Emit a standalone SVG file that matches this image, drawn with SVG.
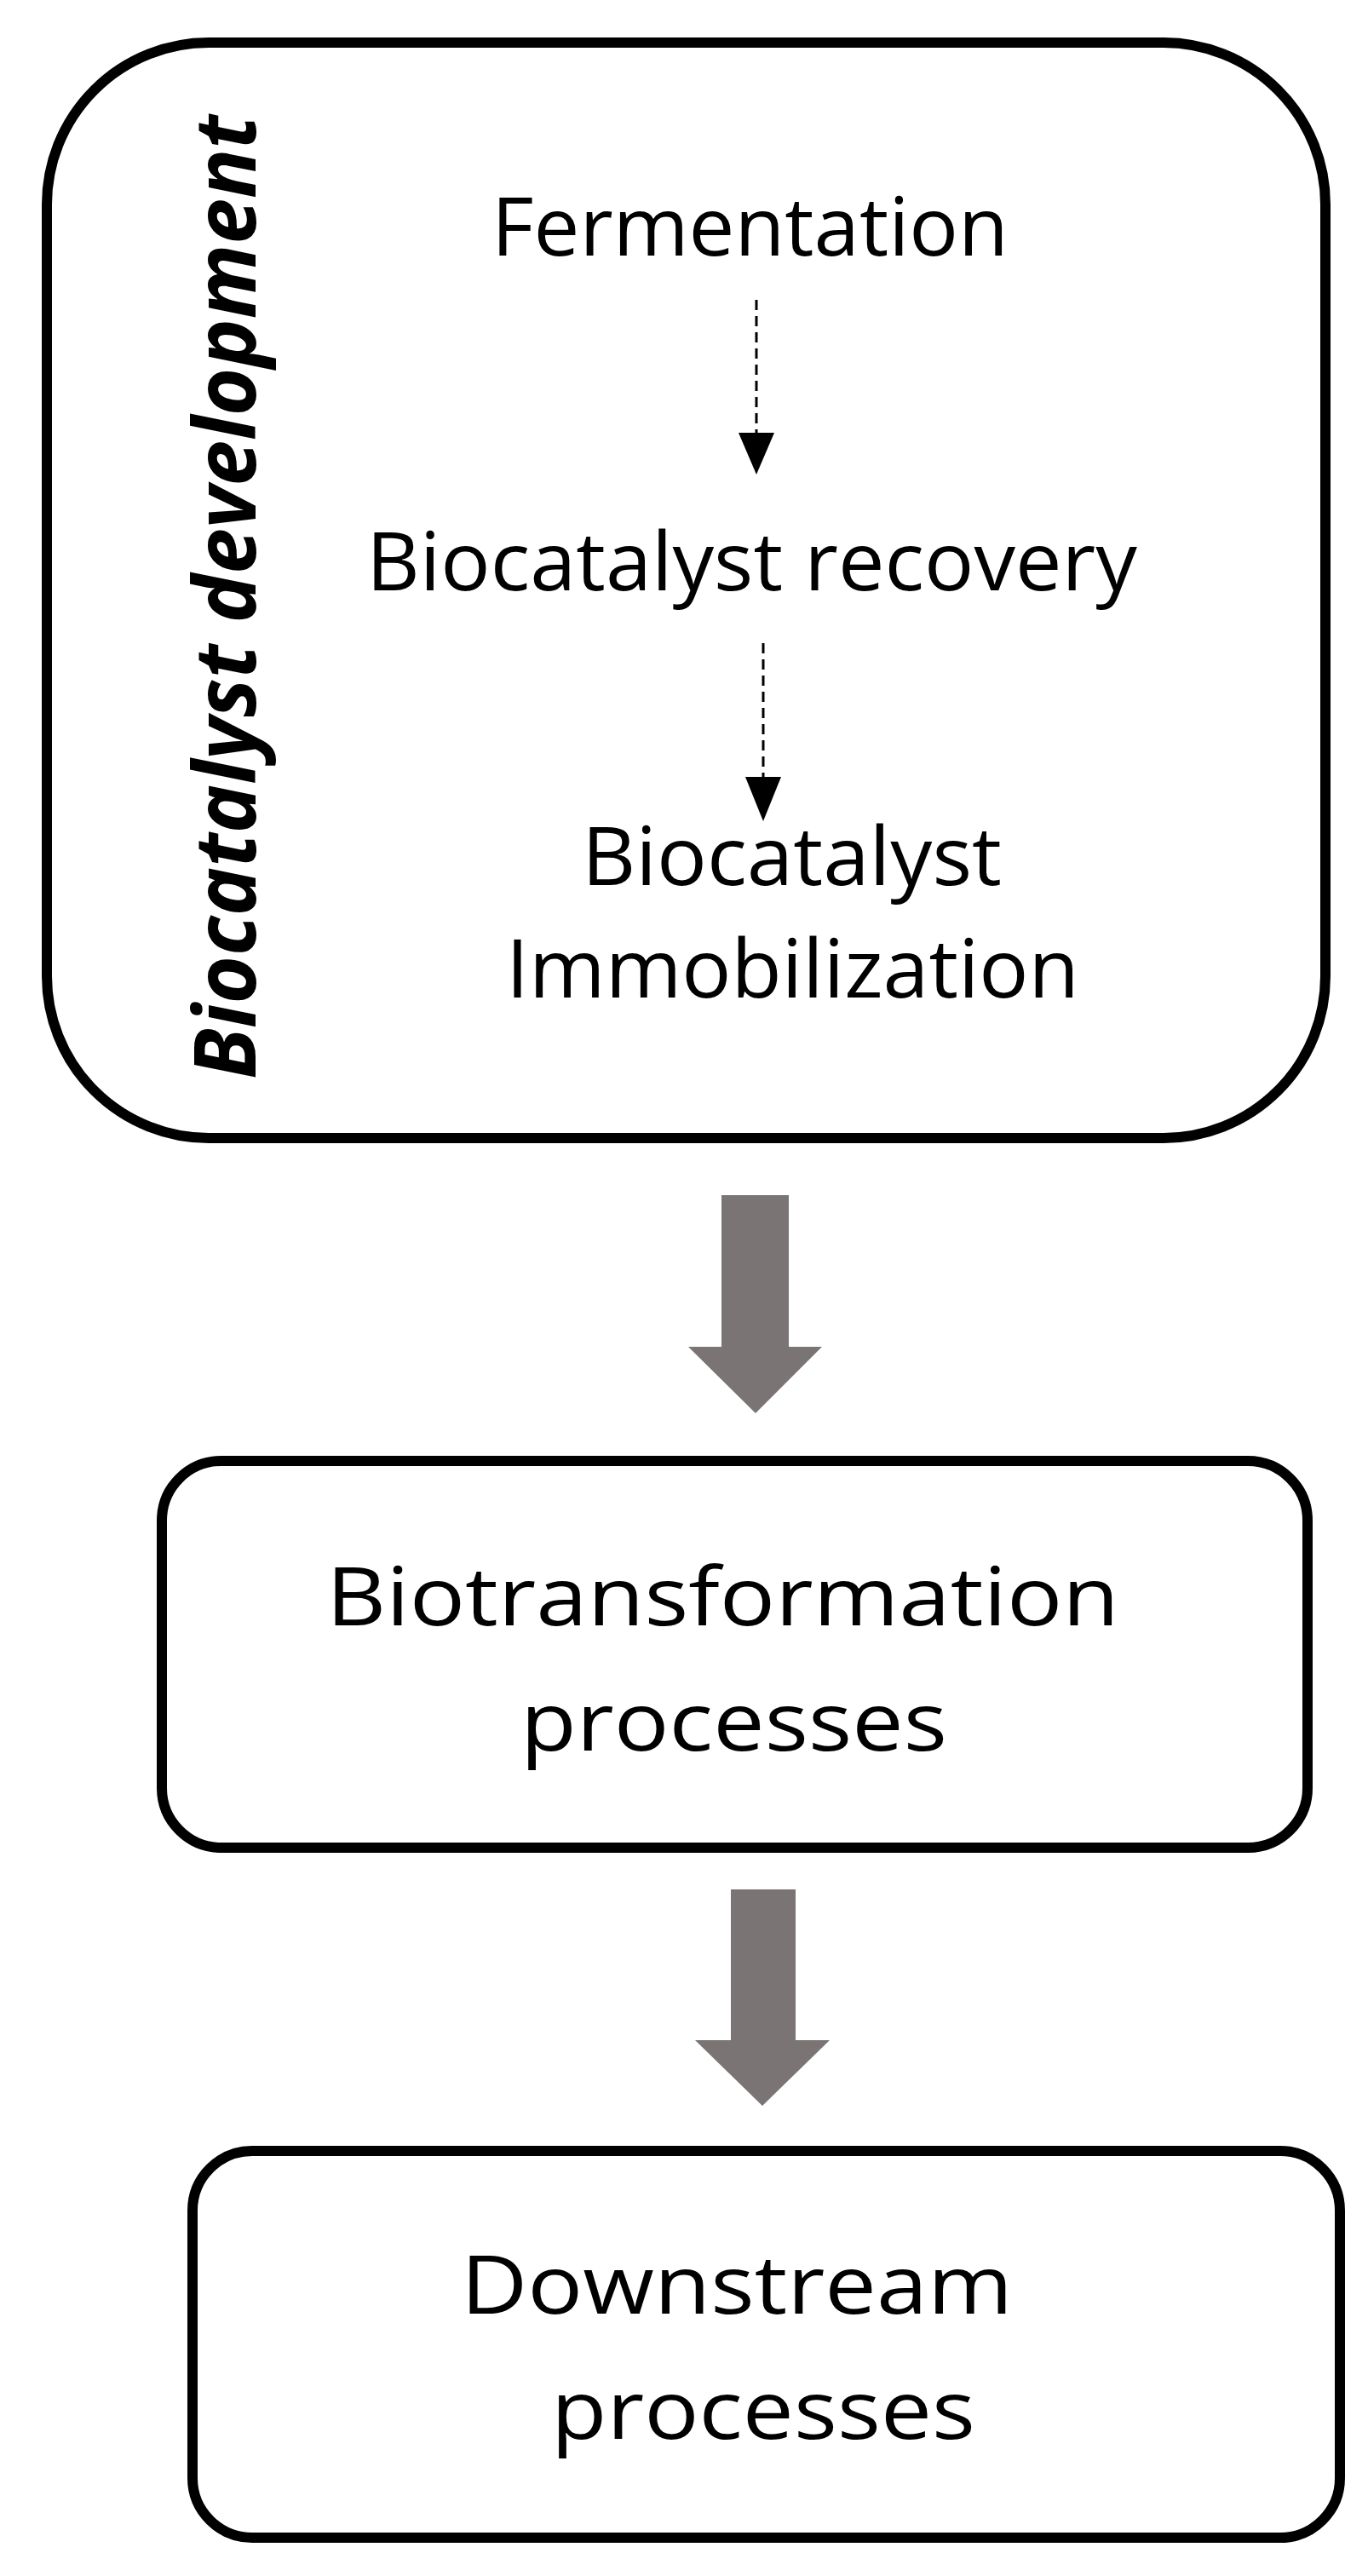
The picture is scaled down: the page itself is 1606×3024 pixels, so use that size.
<svg xmlns="http://www.w3.org/2000/svg" width="1606" height="3024" viewBox="0 0 1606 3024">
<style>
.box{fill:#fff;stroke:#000;stroke-width:12}
.t{font-family:"Open Sans","Liberation Sans",sans-serif;font-size:96px;fill:#000}
.dash{stroke:#000;stroke-width:3;stroke-dasharray:12 7;fill:none}
.big{fill:#7a7474}
</style>
<defs>
<marker id="ah" markerWidth="14" markerHeight="17" refX="7" refY="17" orient="auto" markerUnits="userSpaceOnUse" viewBox="0 0 14 17"><path d="M0,0 L14,0 L7,17 Z" fill="#000"/></marker>
</defs>
<rect width="1606" height="3024" fill="#fff"/>
<g id="dev">
<rect class="box" x="55" y="50" width="1501" height="1286" rx="190" ry="190"/>
<text x="300" y="1267" transform="rotate(-90 300 1267)" font-family="'Open Sans','Liberation Sans',sans-serif" font-size="100" font-weight="bold" font-style="italic" textLength="1132" lengthAdjust="spacingAndGlyphs">Biocatalyst development</text>
</g>
<g id="fermentation"><text class="t" x="577" y="300" textLength="607" lengthAdjust="spacingAndGlyphs">Fermentation</text></g>
<g id="recovery"><text class="t" x="430" y="693" textLength="905" lengthAdjust="spacingAndGlyphs">Biocatalyst recovery</text></g>
<g id="immob"><text class="t" x="683" y="1039" textLength="493" lengthAdjust="spacingAndGlyphs">Biocatalyst</text><text class="t" x="594" y="1171" textLength="673" lengthAdjust="spacingAndGlyphs">Immobilization</text></g>
<g id="bio"><rect class="box" x="190" y="1715" width="1345" height="454" rx="70" ry="70"/><text class="t" x="383" y="1908" textLength="931" lengthAdjust="spacingAndGlyphs">Biotransformation</text><text class="t" x="611" y="2055" textLength="501" lengthAdjust="spacingAndGlyphs">processes</text></g>
<g id="down"><rect class="box" x="226" y="2525" width="1347" height="454" rx="70" ry="70"/><text class="t" x="541" y="2716" textLength="648" lengthAdjust="spacingAndGlyphs">Downstream</text><text class="t" x="647" y="2863" textLength="498" lengthAdjust="spacingAndGlyphs">processes</text></g>
<g id="connectors">
<line class="dash" x1="888" y1="352" x2="888" y2="510"/>
<path d="M867,508 L909,508 L888,557 Z" fill="#000"/>
<line class="dash" x1="896" y1="755" x2="896" y2="914"/>
<path d="M875,912 L917,912 L896,964 Z" fill="#000"/>
<path class="big" d="M847,1403 L926,1403 L926,1581 L965,1581 L887,1659 L808,1581 L847,1581 Z"/>
<path class="big" d="M858,2218 L934,2218 L934,2395 L974,2395 L895,2472 L816,2395 L858,2395 Z"/>
</g>
</svg>
